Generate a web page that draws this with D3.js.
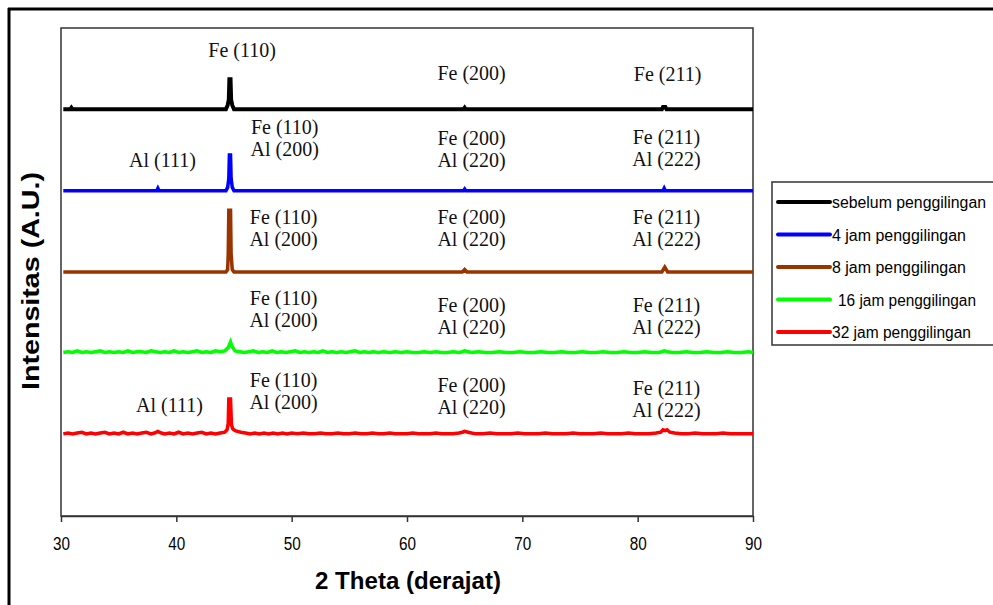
<!DOCTYPE html>
<html>
<head>
<meta charset="utf-8">
<script src="https://cdn.jsdelivr.net/npm/d3@7"></script>
<style>
  html, body { margin: 0; padding: 0; background: #ffffff; }
  svg { display: block; }
</style>
</head>
<body>
<svg id="chart" width="993" height="605"></svg>
<script>
// ---------------- DATA ----------------
const xTicks = [30, 40, 50, 60, 70, 80, 90];
const xTitle = "2 Theta (derajat)";
const yTitle = "Intensitas (A.U.)";

const seriesNames = ["sebelum penggilingan", "4 jam penggilingan", "8 jam penggilingan", "16 jam penggilingan", "32 jam penggilingan"];
const seriesColors = ["#000000", "#0000ff", "#993300", "#00ff00", "#ff0000"];
const seriesOffsets = [500, 400, 300, 200, 100];

// [2theta, intensity above the pattern's own baseline]
const sebelum = [[30.2,0],[30.8,0],[30.9,2],[31.0,0],[44.3,0],[44.45,5],[44.55,12],[44.6,37],[44.7,37],[44.75,12],[44.85,5],[45.0,0],
  [64.9,0],[65.0,2],[65.1,0],[82.1,0],[82.2,3],[82.4,3],[82.5,0],[90,0]];
const jam4 = [[30.2,0],[38.3,0],[38.4,3],[38.5,0],[44.3,0],[44.45,4],[44.55,15],[44.6,44],[44.7,44],[44.75,15],[44.85,4],[45.0,0],
  [64.9,0],[65.0,2],[65.1,0],[82.2,0],[82.3,3],[82.4,0],[90,0]];
const jam8 = [[30.2,0],[44.3,0],[44.45,3],[44.5,22],[44.55,76],[44.7,76],[44.75,22],[44.85,3],[45.0,0],
  [64.8,0],[65.0,3],[65.2,0],[82.1,0],[82.35,6],[82.6,0],[90,0]];
const jam16 = [[30.2,1],[30.6,2],[31.0,1],[31.4,3],[31.8,1],[32.2,2],[32.6,1],[33.0,2],[33.4,3],[33.8,1],[34.2,2],[34.6,1],[35.0,2],[35.4,1],[35.8,3],
  [36.2,1],[36.6,2],[37.0,2],[37.4,1],[37.8,3],[38.2,2],[38.6,1],[39.0,2],[39.4,1],[39.8,3],[40.2,1],[40.6,2],[41.0,1],[41.4,2],[41.8,3],
  [42.2,1],[42.6,2],[43.0,1],[43.4,3],[43.8,2],[44.2,3],[44.5,7],[44.7,14],[44.85,8],[45.1,3],[45.5,2],[45.9,1],[46.3,2],[46.7,3],[47.1,1],
  [47.5,2],[47.9,1],[48.3,3],[48.7,1],[49.1,2],[49.5,1],[49.9,2],[50.3,3],[50.7,1],[51.1,2],[51.5,1],[51.9,2],[52.3,1],[52.7,3],[53.1,1],
  [53.5,2],[53.9,1],[54.3,2],[54.7,1],[55.1,2],[55.5,3],[55.9,1],[56.3,2],[56.7,1],[57.1,2],[57.5,1],[58.0,2],[58.5,1],[59.0,2],[59.5,1],
  [60.0,2],[60.5,1],[61.0,1],[61.5,2],[62.0,1],[62.5,2],[63.0,1],[63.5,1],[64.0,2],[64.5,1],[64.8,2],[65.0,3],[65.3,2],[65.6,1],[66.2,2],
  [66.8,1],[67.4,1],[68.0,2],[68.6,1],[69.2,1],[69.8,2],[70.4,1],[71.0,1],[71.6,2],[72.2,1],[72.8,1],[73.4,2],[74.0,1],[74.6,1],[75.2,2],
  [75.8,1],[76.4,1],[77.0,2],[77.6,1],[78.2,1],[78.8,2],[79.4,1],[80.0,1],[80.6,2],[81.2,1],[81.8,1],[82.1,2],[82.3,3],[82.6,2],[83.0,1],
  [83.6,1],[84.2,2],[84.8,1],[85.4,1],[86.0,2],[86.6,1],[87.2,1],[87.8,2],[88.4,1],[89.0,1],[89.6,2],[90.0,1]];
const jam32 = [[30.2,1],[30.6,2],[31.0,1],[31.4,2],[31.8,3],[32.2,1],[32.6,2],[33.0,1],[33.4,2],[33.8,3],[34.2,1],[34.6,2],[35.0,1],[35.4,3],
  [35.8,1],[36.2,2],[36.6,1],[37.0,2],[37.4,3],[37.8,1],[38.1,2],[38.4,4],[38.7,2],[39.0,1],[39.4,2],[39.8,1],[40.2,3],[40.6,1],[41.0,2],
  [41.4,1],[41.8,2],[42.2,3],[42.6,1],[43.0,2],[43.4,1],[43.8,2],[44.2,3],[44.4,6],[44.5,14],[44.55,44],[44.7,44],[44.78,12],[44.9,7],
  [45.1,5],[45.3,4],[45.6,3],[46.0,2],[46.4,1],[46.8,2],[47.2,1],[47.6,2],[48.0,1],[48.4,2],[48.8,1],[49.2,2],[49.6,1],[50.0,2],[50.5,1],
  [51.0,2],[51.5,1],[52.0,1],[52.5,2],[53.0,1],[53.5,1],[54.0,2],[54.5,1],[55.0,1],[55.5,2],[56.0,1],[56.5,1],[57.0,2],[57.5,1],[58.0,1],
  [58.5,2],[59.0,1],[59.5,1],[60.0,1],[60.5,2],[61.0,1],[61.5,1],[62.0,1],[62.5,2],[63.0,1],[63.5,1],[64.0,1],[64.5,2],[64.8,3],[65.0,4],
  [65.3,3],[65.6,2],[66.0,1],[66.6,1],[67.2,2],[67.8,1],[68.4,1],[69.0,1],[69.6,2],[70.2,1],[70.8,1],[71.4,1],[72.0,2],[72.6,1],[73.2,1],
  [73.8,1],[74.4,2],[75.0,1],[75.6,1],[76.2,1],[76.8,2],[77.4,1],[78.0,1],[78.6,1],[79.2,2],[79.8,1],[80.4,1],[81.0,1],[81.6,2],[82.0,3],
  [82.2,6],[82.4,5],[82.55,6],[82.8,3],[83.2,2],[83.8,1],[84.4,1],[85.0,2],[85.6,1],[86.2,1],[86.8,1],[87.4,2],[88.0,1],[88.6,1],[89.2,1],[90.0,1]];
const seriesValues = [sebelum, jam4, jam8, jam16, jam32];

// peak labels: [2theta of text centre, intensity of first text line, lines...]
const peakLabels = [
  [45.7, 573, ["Fe (110)"]],
  [65.6, 545, ["Fe (200)"]],
  [82.6, 544, ["Fe (211)"]],
  [38.8, 438, ["Al (111)"]],
  [49.4, 478, ["Fe (110)", "Al (200)"]],
  [65.6, 465, ["Fe (200)", "Al (220)"]],
  [82.5, 466, ["Fe (211)", "Al (222)"]],
  [49.3, 368, ["Fe (110)", "Al (200)"]],
  [65.6, 368, ["Fe (200)", "Al (220)"]],
  [82.5, 368, ["Fe (211)", "Al (222)"]],
  [49.3, 268, ["Fe (110)", "Al (200)"]],
  [65.6, 259, ["Fe (200)", "Al (220)"]],
  [82.5, 259, ["Fe (211)", "Al (222)"]],
  [39.4, 137, ["Al (111)"]],
  [49.3, 167, ["Fe (110)", "Al (200)"]],
  [65.6, 161, ["Fe (200)", "Al (220)"]],
  [82.5, 157, ["Fe (211)", "Al (222)"]]
];

// ---------------- CHART ----------------
const svg = d3.select("#chart");
const plot = { left: 61, right: 753, top: 28, bottom: 516 };

const x = d3.scaleLinear().domain([30, 90]).range([plot.left, plot.right]);
const y = d3.scaleLinear().domain([0, 600]).range([plot.bottom, plot.top]);

// outer (clipped) frame
svg.append("line").attr("x1", 9).attr("x2", 9).attr("y1", 8).attr("y2", 605)
  .attr("stroke", "#000").attr("stroke-width", 3);
svg.append("line").attr("x1", 8).attr("x2", 993).attr("y1", 9).attr("y2", 9)
  .attr("stroke", "#000").attr("stroke-width", 3);

// plot frame
svg.append("rect").attr("x", plot.left).attr("y", plot.top)
  .attr("width", plot.right - plot.left).attr("height", plot.bottom - plot.top)
  .attr("fill", "none").attr("stroke", "#333").attr("stroke-width", 1.5);

// x axis
const xAxis = d3.axisBottom(x).tickValues(xTicks).tickSize(6).tickSizeOuter(0).tickFormat(d3.format("d"));
const gx = svg.append("g").attr("transform", `translate(0,${plot.bottom})`).call(xAxis);
gx.attr("font-size", null).attr("font-family", null);
gx.select(".domain").attr("stroke", "#333").attr("stroke-width", 1.5);
gx.selectAll(".tick line").attr("stroke", "#333").attr("stroke-width", 1.5);
gx.selectAll(".tick text")
  .attr("y", 34).attr("dy", 0)
  .style("font-family", "'Liberation Sans', Arial, sans-serif")
  .style("font-size", "19px").attr("fill", "#000")
  .attr("textLength", 17).attr("lengthAdjust", "spacingAndGlyphs");

// axis titles
svg.append("text").attr("x", 408).attr("y", 589)
  .attr("text-anchor", "middle")
  .attr("font-family", "Liberation Sans, Arial, sans-serif")
  .attr("font-weight", "bold").attr("font-size", 24)
  .attr("textLength", 186).attr("lengthAdjust", "spacingAndGlyphs")
  .text(xTitle);

svg.append("text")
  .attr("transform", "translate(39,281) rotate(-90)")
  .attr("text-anchor", "middle")
  .attr("font-family", "Liberation Sans, Arial, sans-serif")
  .attr("font-weight", "bold").attr("font-size", 23)
  .attr("textLength", 218).attr("lengthAdjust", "spacingAndGlyphs")
  .text(yTitle);

// series
const line = d3.line().x(d => x(d[0])).y(d => y(d[1]));
seriesValues.forEach((vals, i) => {
  const pts = vals.map(d => [d[0], d[1] + seriesOffsets[i]]);
  svg.append("path").datum(pts)
    .attr("d", line)
    .attr("fill", "none")
    .attr("stroke", seriesColors[i])
    .attr("stroke-width", i === 0 ? 4 : 3.5)
    .attr("stroke-linejoin", "miter");
});

// peak labels
peakLabels.forEach(([t, v, lines]) => {
  const txt = svg.append("text")
    .attr("x", x(t)).attr("y", y(v))
    .attr("text-anchor", "middle")
    .attr("font-family", "Liberation Serif, Times New Roman, serif")
    .attr("font-size", 20).attr("fill", "#111");
  lines.forEach((s, k) => {
    txt.append("tspan").attr("x", x(t)).attr("y", y(v) + 7 + k * 22).text(s);
  });
});

// legend
const legend = svg.append("g");
legend.append("rect").attr("x", 772).attr("y", 182).attr("width", 240).attr("height", 163)
  .attr("fill", "#fff").attr("stroke", "#333").attr("stroke-width", 1.5);
const legendTextLen = [154, 134, 134, 138, 139];
seriesNames.forEach((name, i) => {
  const ly = 202 + i * 32.5;
  legend.append("line").attr("x1", 778).attr("x2", 830).attr("y1", ly).attr("y2", ly)
    .attr("stroke", seriesColors[i]).attr("stroke-width", 4).attr("stroke-linecap", "round");
  legend.append("text").attr("x", i === 3 ? 838 : 832).attr("y", ly + 6)
    .attr("font-family", "Liberation Sans, Arial, sans-serif")
    .attr("font-size", 16).attr("fill", "#000")
    .attr("textLength", legendTextLen[i]).attr("lengthAdjust", "spacingAndGlyphs")
    .text(name);
});
</script>
</body>
</html>
